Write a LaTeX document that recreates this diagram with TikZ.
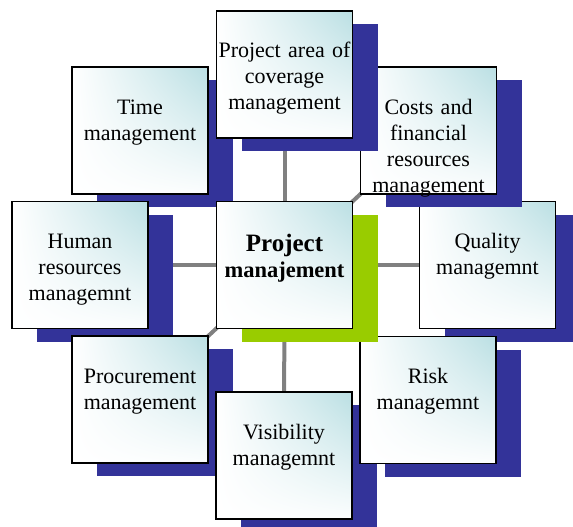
\documentclass[tikz,border=0pt]{standalone}
\usepackage{fontspec}
\setmainfont{Liberation Serif}
\usetikzlibrary{shadows,shadings}
\definecolor{navy}{RGB}{51,51,153}
\definecolor{lime}{RGB}{153,204,0}
\definecolor{tealish}{RGB}{186,223,227}
\definecolor{linegray}{RGB}{128,128,128}
\pgfdeclarelayer{background}
\pgfsetlayers{background,main}
\begin{document}
\begin{tikzpicture}[x=1pt,y=-1pt,
  card/.style={draw=black, line width=1.8pt, shade,
    upper left=white, lower left=white, upper right=tealish, lower right=tealish!5,
    minimum width=136pt, minimum height=127pt, inner sep=0pt,
    text width=136pt, align=center, text height=47pt, text depth=80pt,
    font=\fontsize{22}{26}\selectfont},
  navyshadow/.style={general shadow={fill=navy, shadow xshift=25pt, shadow yshift=-13pt}},
  limeshadow/.style={general shadow={fill=lime, shadow xshift=25pt, shadow yshift=-13pt}},
  conn/.style={draw=linegray, line width=4pt}]
\useasboundingbox (0,0) rectangle (573,527);
\node[card, navyshadow] (quality) at (487.5,265) {Quality\\managemnt};
\node[card, navyshadow] (costs) at (428.5,130.5) {Costs and\\financial\\resources\\management};
\node[card, navyshadow] (time) at (140,130.5) {Time\\management};
\node[card, navyshadow] (scope) at (284.5,74.5) {Project area of\\coverage\\management};
\node[card, navyshadow] (human) at (80,265) {Human\\resources\\managemnt};
\node[card, navyshadow] (procure) at (140,399.5) {Procurement\\management};
\node[card, navyshadow] (visib) at (284,455.5) {Visibility\\managemnt};
\node[card, navyshadow] (risk) at (428,400) {Risk\\managemnt};
\node[card, limeshadow, text height=50pt, text depth=77pt,
  font=\bfseries\fontsize{22.5}{26}\selectfont] (pm) at (284.5,265)
  {{\fontsize{25}{26}\selectfont Project}\\manajement};
\begin{pgfonlayer}{background}
\foreach \t in {quality,costs,time,scope,human,procure,visib,risk}
  \draw[conn] (pm.center) -- (\t.center);
\end{pgfonlayer}
\end{tikzpicture}
\end{document}
